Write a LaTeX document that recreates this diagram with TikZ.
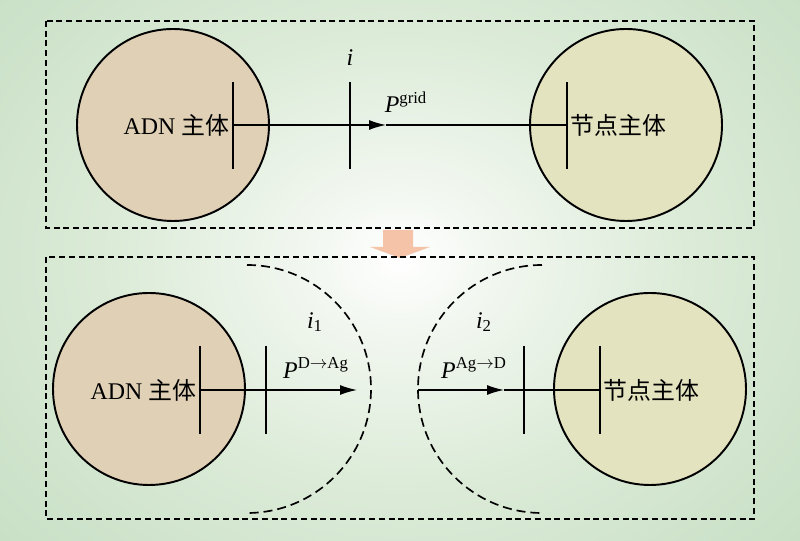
\documentclass[tikz,border=0pt]{standalone}
\usepackage{fontspec}
\setmainfont{Liberation Serif}
\newfontfamily\cjk{Noto Sans CJK SC}
\usetikzlibrary{arrows.meta,positioning}

\definecolor{bggreen}{HTML}{BCD9BB}
\definecolor{glowa}{HTML}{F2F7F0}
\definecolor{glowb}{HTML}{DAEAD6}
\definecolor{glowc}{HTML}{C8DFC5}
\definecolor{adnfill}{HTML}{E0D0B6}
\definecolor{nodefill}{HTML}{E4E3C0}
\definecolor{peach}{HTML}{F4C3A8}

\pgfdeclareradialshading{bgglow}{\pgfpoint{0bp}{0bp}}{color(0bp)=(white); color(3bp)=(glowa); color(10bp)=(glowb); color(18bp)=(glowc); color(25bp)=(bggreen); color(50bp)=(bggreen)}

\begin{document}
\begin{tikzpicture}[x=0.2mm,y=-0.2mm,
    agent/.style={circle, draw, line width=1.1pt, minimum size=38.4mm, inner sep=0pt},
    lbl/.style={font=\fontsize{13.6pt}{16pt}\selectfont, inner sep=2pt},
    dashbox/.style={line width=0.9pt, dash pattern=on 1.2mm off 0.75mm},
    dasharc/.style={line width=0.95pt, dash pattern=on 1.8mm off 1mm},
    bar/.style={line width=0.8pt},
    conn/.style={line width=0.8pt},
    tip/.style={-{Latex[length=3.4mm,width=2mm]}}]
    % background
    \useasboundingbox (0,0) rectangle (800,541);
    \clip (0,0) rectangle (800,541);
    \fill[bggreen] (0,0) rectangle (800,541);
    \shade[shading=bgglow] (-360,-340) rectangle (1160,860);

    % arrow between the two cases
    \fill[peach] (383,230) -- (413,230) -- (413,247) -- (430,247) -- (400,258)
        -- (370,247) -- (383,247) -- cycle;

    \draw[dashbox] (46,21) rectangle (754,228);
    \draw[dashbox] (46,257) rectangle (754,519);

    % top: one interface i
    \node[agent, fill=adnfill] (adnA) at (173,125) {};
    \node[agent, fill=nodefill] (nodeA) at (626,125) {};
    \coordinate (barA) at (233,125);
    \coordinate (barB) at (350,125);
    \coordinate (barC) at (567,125);
    \coordinate (tipA) at (386,125);
    \draw[bar] (barA) ++(0,-43) -- ++(0,87);
    \draw[bar] (barB) ++(0,-43) -- ++(0,87);
    \draw[bar] (barC) ++(0,-43) -- ++(0,87);
    \draw[conn, tip] (barA) -- (tipA);
    \draw[conn] (tipA) -- (barC);
    \node[lbl, anchor=east] (adnAtext) at (barA) {ADN {\cjk 主体}};
    \node[lbl, anchor=west] (nodeAtext) at (barC) {\cjk 节点主体};
    \node[lbl] (iA) at (350,58) {\textit{i}};
    \node[lbl] (pgrid) at (406,102) {\textit{P}\textsuperscript{grid}};

    % bottom: split into i1 and i2
    \node[agent, fill=adnfill] (adnB) at (149,389) {};
    \node[agent, fill=nodefill] (nodeB) at (650,389) {};
    \coordinate (barD) at (200,390);
    \coordinate (barE) at (266,390);
    \coordinate (tipB) at (357,390);
    \coordinate (arcR) at (418,390);
    \coordinate (tipC) at (504,390);
    \coordinate (barF) at (524,390);
    \coordinate (barG) at (600,390);
    \draw[bar] (barD) ++(0,-44) -- ++(0,88);
    \draw[bar] (barE) ++(0,-44) -- ++(0,88);
    \draw[bar] (barF) ++(0,-44) -- ++(0,88);
    \draw[bar] (barG) ++(0,-44) -- ++(0,88);
    \draw[conn, tip] (barD) -- (tipB);
    \draw[conn, tip] (arcR) -- (tipC);
    \draw[conn] (tipC) -- (barG);
    \draw[dasharc] (247,265) arc[start angle=-90, end angle=90, radius=124];
    \draw[dasharc] (542,265) arc[start angle=-90, end angle=-270, radius=124];
    \node[lbl, anchor=east] (adnBtext) at (barD) {ADN {\cjk 主体}};
    \node[lbl, anchor=west] (nodeBtext) at (barG) {\cjk 节点主体};
    \node[lbl] (iB) at (315,322) {\textit{i}\textsubscript{1}};
    \node[lbl] (iC) at (484,322) {\textit{i}\textsubscript{2}};
    \node[lbl] (pda) at (316,368) {\textit{P}\textsuperscript{D$\rightarrow$Ag}};
    \node[lbl] (pad) at (474,368) {\textit{P}\textsuperscript{Ag$\rightarrow$D}};
\end{tikzpicture}
\end{document}
